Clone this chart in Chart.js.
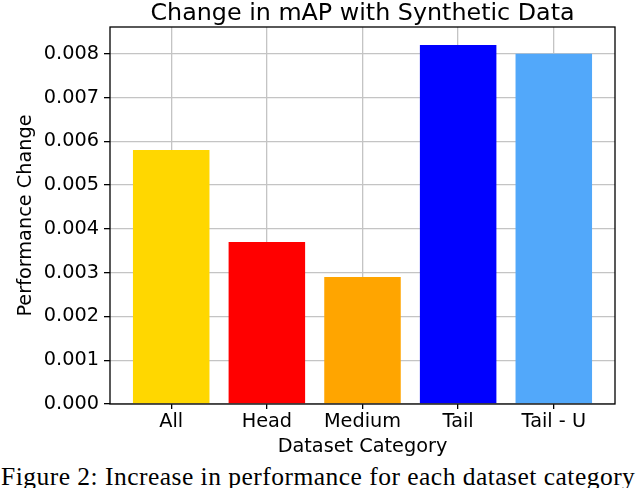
<!DOCTYPE html>
<html>
<head>
<meta charset="utf-8">
<script src="https://cdn.jsdelivr.net/npm/chart.js@4.4.1/dist/chart.umd.min.js"></script>
<style>
  html, body { margin: 0; padding: 0; background: #fff; }
  #wrap { position: relative; width: 640px; height: 488px; overflow: hidden; }
  #myChart { position: absolute; left: 0; top: 0; }
  #caption {
    position: absolute; left: 1px; top: 463.5px; width: 640px;
    white-space: nowrap; color: #000;
    font-family: 'Liberation Serif', serif; font-size: 25.5px; line-height: 25.5px;
    letter-spacing: 0.48px;
  }
</style>
</head>
<body>
<div id="wrap">
  <canvas id="myChart" width="640" height="460"></canvas>
  <div id="caption">Figure 2: Increase in performance for each dataset category</div>
</div>
<script>
// Data
const categories = ['All', 'Head', 'Medium', 'Tail', 'Tail - U'];
const perfChange = [0.0058, 0.0037, 0.0029, 0.0082, 0.0080];
const barColors = ['#ffd700', '#ff0000', '#ffa500', '#0000ff', '#52a8fa'];

const FONT = 19.3;
Chart.defaults.font.family = "'DejaVu Sans', sans-serif";
Chart.defaults.color = '#000';

// matplotlib style box around the plot area
const frame = {
    id: 'frame',
    afterDatasetsDraw(chart) {
        const { ctx, chartArea: a } = chart;
        ctx.save();
        ctx.strokeStyle = '#000';
        ctx.lineWidth = 1.3;
        ctx.strokeRect(a.left, a.top, a.right - a.left, a.bottom - a.top);
        ctx.restore();
    }
};

const ctx = document.getElementById('myChart').getContext('2d');
const chart = new Chart(ctx, {
    type: 'bar',
    data: {
        datasets: [{
            data: categories.map((c, i) => ({ x: i, y: perfChange[i] })),
            backgroundColor: barColors,
            borderWidth: 0,
            barPercentage: 0.8,
            categoryPercentage: 1
        }]
    },
    options: {
        responsive: false,
        animation: false,
        layout: { padding: { left: 0, right: 25, top: 0, bottom: 0 } },
        plugins: {
            legend: { display: false },
            tooltip: { enabled: false },
            title: {
                display: true,
                fullSize: false,
                text: 'Change in mAP with Synthetic Data',
                color: '#000',
                font: { size: 23.8, weight: 'normal', lineHeight: 1 },
                padding: { top: 1.5, bottom: 1.7 }
            }
        },
        scales: {
            x: {
                type: 'linear',
                min: -0.64,
                max: 4.64,
                offset: false,
                afterFit: s => { s.height = 56; },
                border: { display: false },
                grid: { offset: false, color: '#c4c4c4', lineWidth: 1.3, tickLength: 5, tickColor: '#000', tickWidth: 1.3 },
                ticks: {
                    stepSize: 1,
                    includeBounds: false,
                    autoSkip: false,
                    maxRotation: 0,
                    padding: 1.7,
                    font: { size: FONT },
                    callback: v => categories[v] ?? ''
                },
                title: {
                    display: true,
                    text: 'Dataset Category',
                    font: { size: FONT },
                    padding: { top: 0, bottom: 1.4 }
                }
            },
            y: {
                min: 0,
                max: 0.00861,
                afterFit: s => { s.width = 110; },
                border: { display: false },
                grid: { color: '#c4c4c4', lineWidth: 1.3, tickLength: 6, tickColor: '#000', tickWidth: 1.3 },
                ticks: {
                    stepSize: 0.001,
                    includeBounds: false,
                    padding: 5,
                    font: { size: FONT },
                    callback: v => v.toFixed(3)
                },
                title: {
                    display: true,
                    text: 'Performance Change',
                    font: { size: FONT },
                    padding: { top: 14, bottom: 0 }
                }
            }
        }
    },
    plugins: [frame]
});
</script>
</body>
</html>
